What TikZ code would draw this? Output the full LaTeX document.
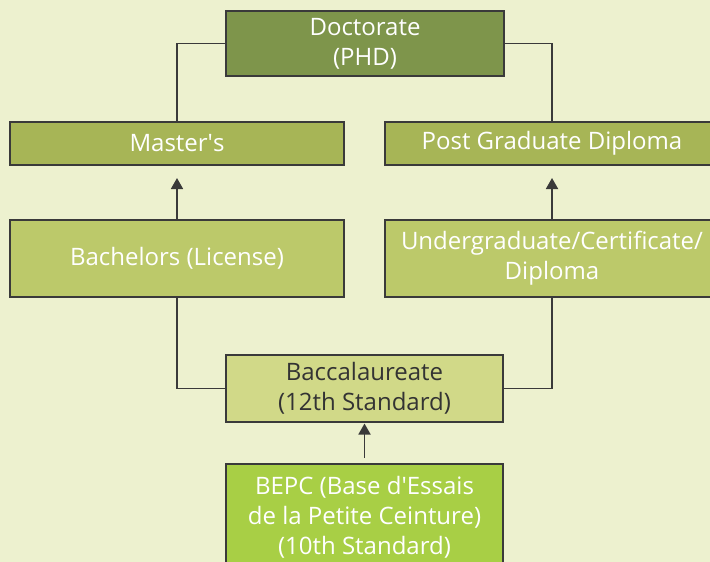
\documentclass[tikz,border=0pt]{standalone}
\usepackage{fontspec}
\setmainfont{Open Sans}
\usetikzlibrary{arrows.meta}
\definecolor{bg}{HTML}{EDF1CF}
\definecolor{bordc}{HTML}{3A3A3A}
\definecolor{docc}{HTML}{7E954B}
\definecolor{masc}{HTML}{A7B556}
\definecolor{bacc}{HTML}{BCC96A}
\definecolor{baccc}{HTML}{D1D988}
\definecolor{bepcc}{HTML}{A8CF45}
\definecolor{darktext}{HTML}{333333}
\tikzset{
  box/.style={draw=bordc, line width=2pt, rectangle, inner sep=0pt, align=center,
    font=\fontsize{24}{30}\selectfont, text=white},
  conn/.style={draw=bordc, line width=1.8pt},
  arr/.style={conn, -{Triangle[width=12pt,length=11pt]}},
}
\begin{document}
\begin{tikzpicture}[x=1pt,y=-1pt]
\fill[bg] (0,0) rectangle (710,562);
\useasboundingbox (0,0) rectangle (710,562);
\begin{scope}
\clip (0,0) rectangle (710,562);
\node[box, fill=docc, minimum width=278pt, minimum height=65pt] (doc) at (365,43.5) {Doctorate\\(PHD)};
\node[box, fill=masc, minimum width=334pt, minimum height=43pt] (mas) at (177,143.5) {Master\textquotesingle s};
\node[box, fill=masc, minimum width=334pt, minimum height=43pt] (pgd) at (552,143.5) {Post Graduate Diploma};
\node[box, fill=bacc, minimum width=334pt, minimum height=77pt] (bac) at (177,258.5) {Bachelors (License)};
\node[box, fill=bacc, minimum width=334pt, minimum height=77pt] (ucd) at (552,258.5) {Undergraduate/Certificate/\\Diploma};
\node[box, fill=baccc, text=darktext, minimum width=277pt, minimum height=67pt] (bcl) at (364.5,388.5) {Baccalaureate\\(12th Standard)};
\node[box, fill=bepcc, minimum width=277pt, minimum height=106pt] (bepc) at (364.5,517) {BEPC (Base d\textquotesingle Essais\\de la Petite Ceinture)\\(10th Standard)};
\end{scope}
\draw[conn] (doc.west) -| (mas.north);
\draw[conn] (doc.east) -| (pgd.north);
\draw[arr, shorten >=12pt] (bac.north) -- (mas.south);
\draw[arr, shorten >=12pt] (ucd.north) -- (pgd.south);
\draw[conn] (bac.south) |- (bcl.west);
\draw[conn] (ucd.south) |- (bcl.east);
\draw[arr, shorten <=5pt, shorten >=0.5pt] (bepc.north) -- (bcl.south);
\end{tikzpicture}
\end{document}
